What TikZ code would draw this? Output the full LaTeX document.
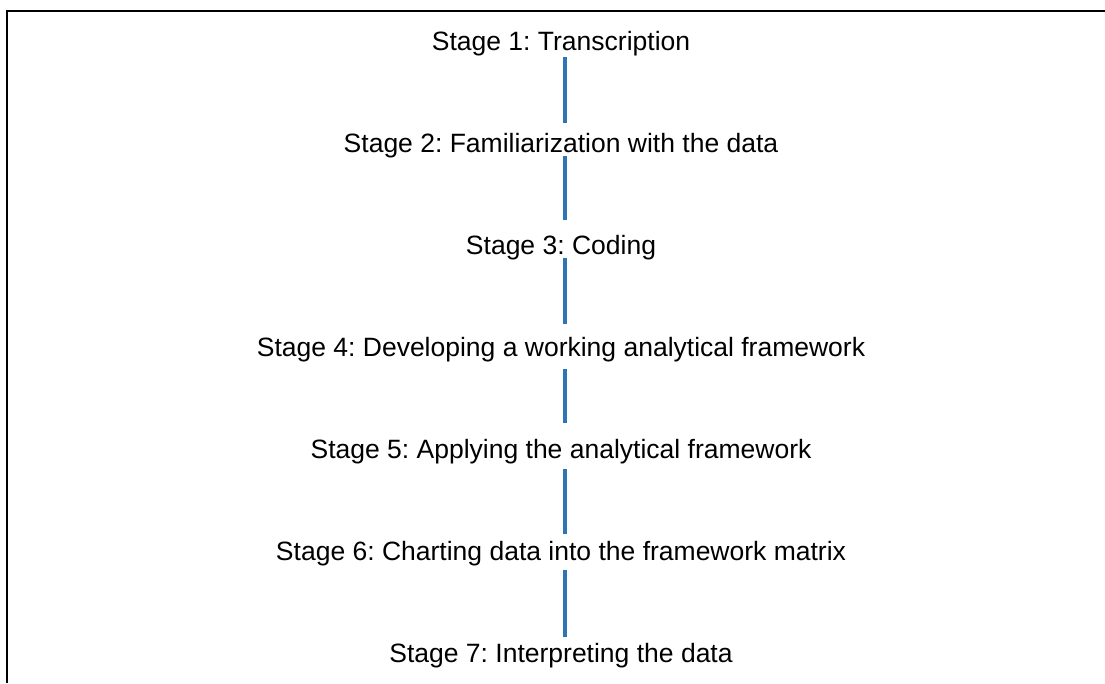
\documentclass[tikz,border=0pt]{standalone}
\usepackage{fontspec}
\setmainfont{Liberation Sans}
\usetikzlibrary{calc}
\frenchspacing
\definecolor{linkblue}{RGB}{46,117,182}
\tikzset{
  stagetext/.style={inner sep=0pt, font=\fontsize{26.5}{30}\selectfont, anchor=base},
  link/.style={draw=linkblue, line width=4.2pt},
  frameline/.style={draw=black, line width=2pt}
}
\begin{document}
\begin{tikzpicture}[x=1pt,y=-1pt]
\useasboundingbox (0,0) rectangle (1105,683);
\coordinate (ftr) at (1105,10.5);
\coordinate (ftl) at (7,10.5);
\coordinate (fbl) at (7,683);
\draw[frameline] (ftr) -- (ftl) -- (fbl);
\node[stagetext] (s1) at (561,50) {Stage 1: Transcription};
\node[stagetext] (s2) at (561,152) {Stage 2: Familiarization with the data};
\node[stagetext] (s3) at (561,254) {Stage 3: Coding};
\node[stagetext] (s4) at (561,356.5) {Stage 4: Developing a working analytical framework};
\node[stagetext] (s5) at (561,458) {Stage 5: Applying the analytical framework};
\node[stagetext] (s6) at (561,560) {Stage 6: Charting data into the framework matrix};
\node[stagetext] (s7) at (561,662) {Stage 7: Interpreting the data};
\foreach \a/\b/\t/\u in {s1/s2/7/29,s2/s3/4/34,s3/s4/4/33,s4/s5/12/35,s5/s6/11/26,s6/s7/10/25}{
  \draw[link] ($(\a.base)+(3.7,\t)$) -- ($(\b.base)+(3.7,-\u)$);
}
\end{tikzpicture}
\end{document}
